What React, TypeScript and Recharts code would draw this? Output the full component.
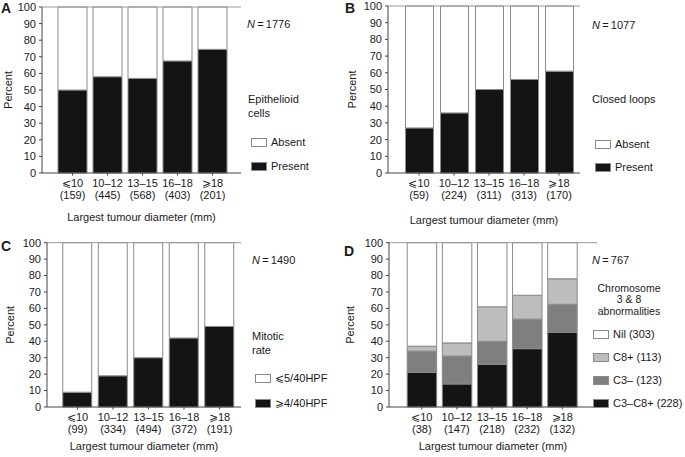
import React from 'react';
import { BarChart, Bar, XAxis, YAxis, ReferenceLine } from 'recharts';

// tumour size groups (mm) shared by all four panels
const sizeGroups = ['⩽10', '10–12', '13–15', '16–18', '⩾18'];
const percentTicks = [0, 10, 20, 30, 40, 50, 60, 70, 80, 90, 100];

// A: epithelioid cells
const epithelioidCounts = [159, 445, 568, 403, 201];
const epithelioidPresent = [50, 58, 57, 67.5, 74.5];
const epithelioidAbsent = [50, 42, 43, 32.5, 25.5];

// B: closed loops
const loopsCounts = [59, 224, 311, 313, 170];
const loopsPresent = [27, 36, 50, 56, 61];
const loopsAbsent = [73, 64, 50, 44, 39];

// C: mitotic rate
const mitoticCounts = [99, 334, 494, 372, 191];
const mitoticHigh = [9, 19, 30, 42, 49];
const mitoticLow = [91, 81, 70, 58, 51];

// D: chromosome 3 & 8 abnormalities
const chromCounts = [38, 147, 218, 232, 132];
const chromC3C8 = [21, 14, 26, 35.5, 45.5];
const chromC3 = [13, 17, 14, 18, 17];
const chromC8 = [3, 8, 21, 14.5, 15.5];
const chromNil = [63, 61, 39, 32, 22];

const FONT = '"Liberation Sans", Arial, Helvetica, sans-serif';
const TEXT = '#1a1a1a';
const AXIS = '#444';
const FRAME = '#9a9a9a';
const BAR_EDGE = '#8a8a8a';

type Series = { key: string; name: React.ReactNode; fill: string; values: number[] };

type PanelProps = {
  letter: string;
  letterPos: [number, number];
  left: number;
  top: number;
  width: number;
  height: number;
  plot: { l: number; r: number; t: number; b: number };
  pad: { left: number; right: number };
  barSize: number;
  counts: number[];
  series: Series[]; // bottom to top
  titleBelow: number;
  percentX: number;
  nLabel: string;
  nPos: [number, number];
  caption: string[];
  captionPos: [number, number];
  captionAlign: 'left' | 'center';
  captionLine: number;
  captionSize: number;
  legendX: number;
  legendCenters: number[]; // top to bottom, matching series reversed
};

const SizeTick = (props: any) => {
  const { x, y, payload, counts } = props;
  return (
    <g transform={`translate(${x},${y})`}>
      <text textAnchor="middle" fontSize={11} fill={TEXT} fontFamily={FONT}>
        <tspan x={0} dy={9}>{payload.value}</tspan>
        <tspan x={0} dy={12.5}>({counts[payload.index]})</tspan>
      </text>
    </g>
  );
};

const PercentLabel = (props: any) => {
  const { viewBox, cx } = props;
  const cy = viewBox.y + viewBox.height / 2;
  return (
    <text
      x={cx}
      y={cy}
      transform={`rotate(-90 ${cx} ${cy})`}
      textAnchor="middle"
      dominantBaseline="central"
      fontSize={11}
      fill={TEXT}
      fontFamily={FONT}
    >
      Percent
    </text>
  );
};

const TitleLabel = (props: any) => {
  const { viewBox, below } = props;
  const cx = viewBox.x + viewBox.width / 2;
  return (
    <text x={cx} y={viewBox.y + below} textAnchor="middle" dominantBaseline="central" fontSize={11} fill={TEXT} fontFamily={FONT}>
      Largest tumour diameter (mm)
    </text>
  );
};

const Panel = (p: PanelProps) => {
  const data = sizeGroups.map((g, i) => {
    const row: Record<string, any> = { group: g };
    p.series.forEach((s) => (row[s.key] = s.values[i]));
    return row;
  });
  const legendItems = [...p.series].reverse();
  return (
    <div style={{ position: 'absolute', left: p.left, top: p.top, width: p.width, height: p.height, fontFamily: FONT, color: TEXT }}>
      <BarChart
        width={p.width}
        height={p.height}
        data={data}
        margin={{ top: p.plot.t, right: p.width - p.plot.r, bottom: 0, left: 0 }}
        barSize={p.barSize}
      >
        <XAxis
          dataKey="group"
          interval={0}
          height={p.height - p.plot.b}
          padding={p.pad}
          tickSize={2.5}
          tickMargin={2}
          axisLine={{ stroke: AXIS }}
          tickLine={{ stroke: AXIS }}
          tick={<SizeTick counts={p.counts} />}
          label={<TitleLabel below={p.titleBelow} />}
        />
        <YAxis
          domain={[0, 100]}
          ticks={percentTicks}
          interval={0}
          width={p.plot.l}
          tickSize={3}
          tickMargin={3}
          axisLine={{ stroke: AXIS }}
          tickLine={{ stroke: AXIS }}
          tick={{ fontSize: 11, fill: TEXT, fontFamily: FONT }}
          label={<PercentLabel cx={p.percentX} />}
        />
        <YAxis yAxisId="frame" orientation="right" width={0} domain={[0, 100]} tick={false} tickLine={false} axisLine={{ stroke: FRAME }} />
        <ReferenceLine y={100} stroke={FRAME} />
        {p.series.map((s) => (
          <Bar key={s.key} dataKey={s.key} stackId="a" fill={s.fill} stroke={BAR_EDGE} strokeWidth={1} isAnimationActive={false} />
        ))}
      </BarChart>

      <div style={{ position: 'absolute', left: p.letterPos[0], top: p.letterPos[1], fontSize: 14, fontWeight: 'bold', lineHeight: '14px' }}>{p.letter}</div>
      <div style={{ position: 'absolute', left: p.nPos[0], top: p.nPos[1] - 7, fontSize: 11, lineHeight: '14px', whiteSpace: 'nowrap' }}>
        <i>N</i>
        {'\u2009=\u2009' + p.nLabel}
      </div>
      <div
        style={{
          position: 'absolute',
          left: p.captionAlign === 'center' ? p.captionPos[0] - 50 : p.captionPos[0],
          width: p.captionAlign === 'center' ? 100 : undefined,
          top: p.captionPos[1] - (p.caption.length * p.captionLine) / 2,
          fontSize: p.captionSize,
          lineHeight: `${p.captionLine}px`,
          textAlign: p.captionAlign,
          whiteSpace: 'nowrap',
        }}
      >
        {p.caption.map((c, i) => (
          <div key={i}>{c}</div>
        ))}
      </div>
      {legendItems.map((s, i) => (
        <div key={s.key} style={{ position: 'absolute', left: p.legendX, top: p.legendCenters[i] - 7, height: 14, display: 'flex', alignItems: 'center', fontSize: 11, whiteSpace: 'nowrap' }}>
          <span style={{ display: 'inline-block', width: 14, height: 7, background: s.fill, border: `1px solid ${BAR_EDGE}`, marginRight: 4 }} />
          <span>{s.name}</span>
        </div>
      ))}
    </div>
  );
};

export default function App() {
  return (
    <div style={{ position: 'absolute', left: 0, top: 0, width: 685, height: 457, background: '#fff' }}>
      <Panel
        letter="A"
        letterPos={[1, 1]}
        left={0}
        top={0}
        width={340}
        height={228}
        plot={{ l: 42, r: 241, t: 7, b: 173 }}
        pad={{ left: 13, right: 11 }}
        barSize={29}
        counts={epithelioidCounts}
        series={[
          { key: 'present', name: 'Present', fill: '#141414', values: epithelioidPresent },
          { key: 'absent', name: 'Absent', fill: '#ffffff', values: epithelioidAbsent },
        ]}
        titleBelow={44}
        percentX={8}
        nLabel="1776"
        nPos={[247, 24]}
        caption={['Epithelioid', 'cells']}
        captionPos={[248, 106]}
        captionAlign="left"
        captionLine={14}
        captionSize={11}
        legendX={251}
        legendCenters={[142, 166]}
      />
      <Panel
        letter="B"
        letterPos={[5, 1]}
        left={340}
        top={0}
        width={345}
        height={228}
        plot={{ l: 48, r: 240, t: 6, b: 173 }}
        pad={{ left: 13.5, right: 3.5 }}
        barSize={28}
        counts={loopsCounts}
        series={[
          { key: 'present', name: 'Present', fill: '#141414', values: loopsPresent },
          { key: 'absent', name: 'Absent', fill: '#ffffff', values: loopsAbsent },
        ]}
        titleBelow={47}
        percentX={12}
        nLabel="1077"
        nPos={[252, 25]}
        caption={['Closed loops']}
        captionPos={[252, 99]}
        captionAlign="left"
        captionLine={14}
        captionSize={11}
        legendX={255}
        legendCenters={[144, 167]}
      />
      <Panel
        letter="C"
        letterPos={[1, 11]}
        left={0}
        top={228}
        width={340}
        height={229}
        plot={{ l: 47, r: 241, t: 14.7, b: 179 }}
        pad={{ left: 12.75, right: 3.75 }}
        barSize={29}
        counts={mitoticCounts}
        series={[
          { key: 'high', name: '⩾4/40HPF', fill: '#141414', values: mitoticHigh },
          { key: 'low', name: '⩽5/40HPF', fill: '#ffffff', values: mitoticLow },
        ]}
        titleBelow={39}
        percentX={10}
        nLabel="1490"
        nPos={[252, 32]}
        caption={['Mitotic', 'rate']}
        captionPos={[252, 115]}
        captionAlign="left"
        captionLine={14}
        captionSize={11}
        legendX={255}
        legendCenters={[150, 175]}
      />
      <Panel
        letter="D"
        letterPos={[4, 16]}
        left={340}
        top={228}
        width={345}
        height={229}
        plot={{ l: 49, r: 257, t: 14.7, b: 179 }}
        pad={{ left: 15.2, right: 17.2 }}
        barSize={29.5}
        counts={chromCounts}
        series={[
          { key: 'c3c8', name: 'C3–C8+ (228)', fill: '#141414', values: chromC3C8 },
          { key: 'c3', name: 'C3– (123)', fill: '#7f7f7f', values: chromC3 },
          { key: 'c8', name: 'C8+ (113)', fill: '#bdbdbd', values: chromC8 },
          { key: 'nil', name: 'Nil (303)', fill: '#ffffff', values: chromNil },
        ]}
        titleBelow={39}
        percentX={10}
        nLabel="767"
        nPos={[252, 32]}
        caption={['Chromosome', '3 & 8', 'abnormalities']}
        captionPos={[289, 72]}
        captionAlign="center"
        captionLine={11.5}
        captionSize={10.5}
        legendX={253}
        legendCenters={[106, 129, 152, 175]}
      />
    </div>
  );
}
